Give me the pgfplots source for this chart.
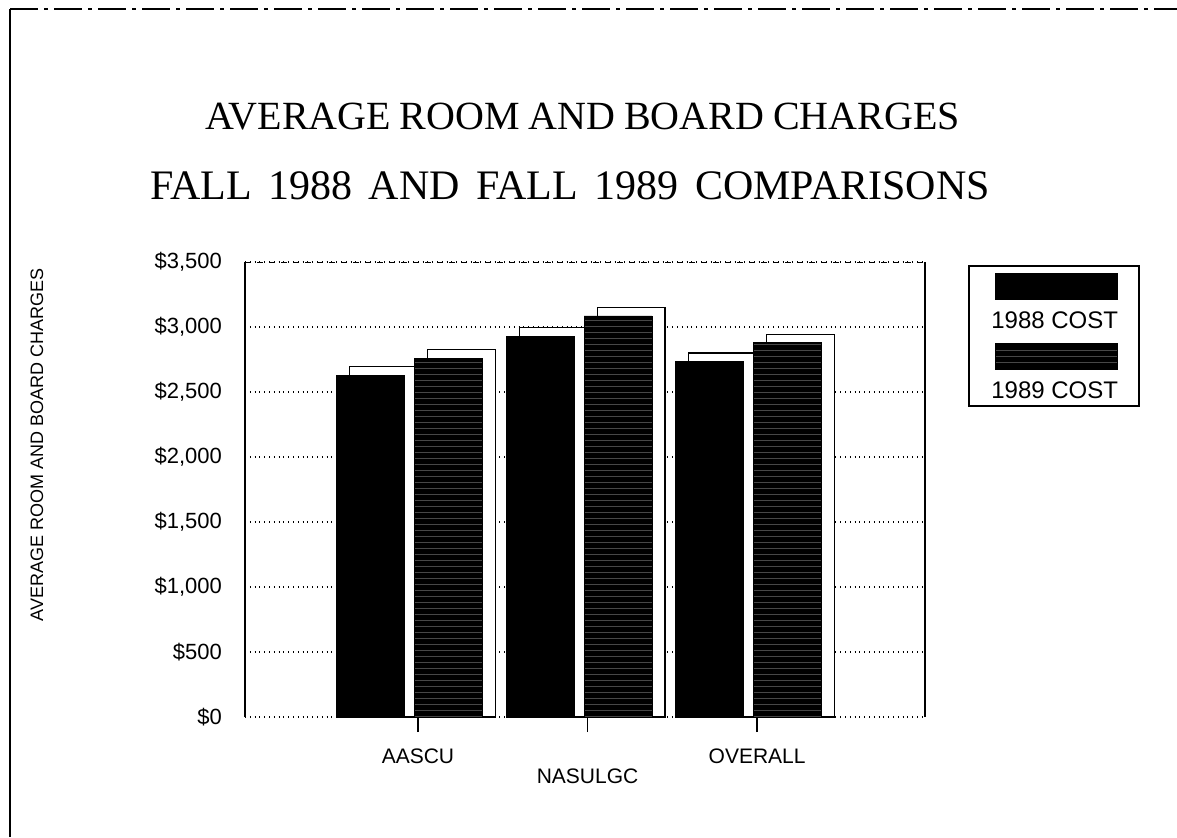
\documentclass[border=0pt]{standalone}
\usepackage{fontspec}
\setmainfont{Liberation Sans}
\newfontfamily\titlefont{Liberation Serif}
\usepackage{pgfplots}
\usepackage{pgfplotstable}
\pgfplotsset{compat=1.18}
\usetikzlibrary{patterns}

\pgfplotstableread{
x v88 v89
0 2630 2760
1 2930 3085
2 2735 2878
}\costs

\begin{document}
\begin{tikzpicture}
\useasboundingbox (0,0) rectangle (588.5pt,418.5pt);
% page border remnants
\draw[line width=0.9pt] (5pt,0pt) -- (5pt,414pt);
\draw[line width=0.7pt, dash pattern=on 14pt off 3pt on 2pt off 3pt] (5pt,414pt) -- (588.5pt,414pt);
% titles
\node[anchor=base, font=\titlefont\fontsize{20}{24}\selectfont] at (291.25pt,353.5pt)
  {\makebox[377.5pt][s]{AVERAGE ROOM AND BOARD CHARGES}};
\node[anchor=base, font=\titlefont\fontsize{21}{25}\selectfont] at (285pt,318.5pt)
  {\makebox[420pt][s]{FALL 1988 AND FALL 1989 COMPARISONS}};
\begin{axis}[
  at={(122.5pt,60pt)}, anchor=south west,
  width=340pt, height=227.5pt, scale only axis,
  xmin=-1.02, xmax=2.99,
  ymin=0, ymax=3500,
  ytick={0,500,...,3500},
  yticklabels={\$0,\$500,{\$1,000},{\$1,500},{\$2,000},{\$2,500},{\$3,000},{\$3,500}},
  ytick style={draw=none},
  ytick pos=left,
  yticklabel style={font=\fontsize{11}{13}\selectfont, xshift=-8pt},
  xtick={0,1,2},
  xticklabels={AASCU,\raisebox{-10pt}{NASULGC},OVERALL},
  xtick pos=bottom,
  xtick align=outside,
  major tick length=7.5pt,
  xtick style={black, line width=0.8pt},
  xticklabel style={anchor=base, yshift=-15.5pt, font=\fontsize{10.5}{12}\selectfont},
  ymajorgrids,
  grid style={black, dotted, line width=0.7pt},
  separate axis lines,
  x axis line style={draw=none},
  y axis line style={line width=0.9pt},
  ylabel={AVERAGE ROOM AND BOARD CHARGES},
  ylabel style={at={(rel axis cs:-0.306,0.598)}, anchor=center, font=\fontsize{9}{11}\selectfont},
  legend cell align=left,
  legend style={at={(rel axis cs:1.0632,0.9934)}, anchor=north west, draw=black, line width=0.8pt,
    inner xsep=10.5pt, inner ysep=0pt, font=\fontsize{12}{14}\selectfont,
    row sep=0pt, column sep=0pt,
    nodes={inner xsep=0pt, inner ysep=0pt, text height=31.5pt, text depth=3.5pt}},
]
\draw[dashed, line width=0.7pt] (rel axis cs:0,1) -- (rel axis cs:1,1);
% 1988 cost: side/top (white) then front
\addplot[ybar, bar width=0.4, bar shift=-0.203, fill=white, draw=black, line width=0.7pt, forget plot]
  table[x=x, y expr=\thisrow{v88}+65] {\costs};
\addplot[ybar, bar width=0.4, bar shift=-0.28, fill=black, draw=black,
  legend image code/.code={\path (0pt,0pt); \fill[black, overlay] (2.5pt,1pt) rectangle (63.5pt,13.5pt);}]
  table[x=x, y=v88] {\costs};
\addlegendentry{1988 COST}
% 1989 cost
\addplot[ybar, bar width=0.4, bar shift=0.257, fill=white, draw=black, line width=0.7pt, forget plot]
  table[x=x, y expr=\thisrow{v89}+65] {\costs};
\addplot[ybar, bar width=0.4, bar shift=0.18, fill=black, draw=black,
  postaction={pattern=horizontal lines, pattern color=black!72!white},
  legend image code/.code={\path (0pt,0pt); \fill[black, overlay] (2.5pt,1pt) rectangle (63.5pt,13.5pt);
    \fill[overlay, pattern=horizontal lines, pattern color=gray!70] (2.5pt,1pt) rectangle (63.5pt,13.5pt);
    \draw[overlay, line width=0.8pt] (2.5pt,1pt) rectangle (63.5pt,13.5pt);}]
  table[x=x, y=v89] {\costs};
\addlegendentry{1989 COST}
\end{axis}
\end{tikzpicture}
\end{document}
